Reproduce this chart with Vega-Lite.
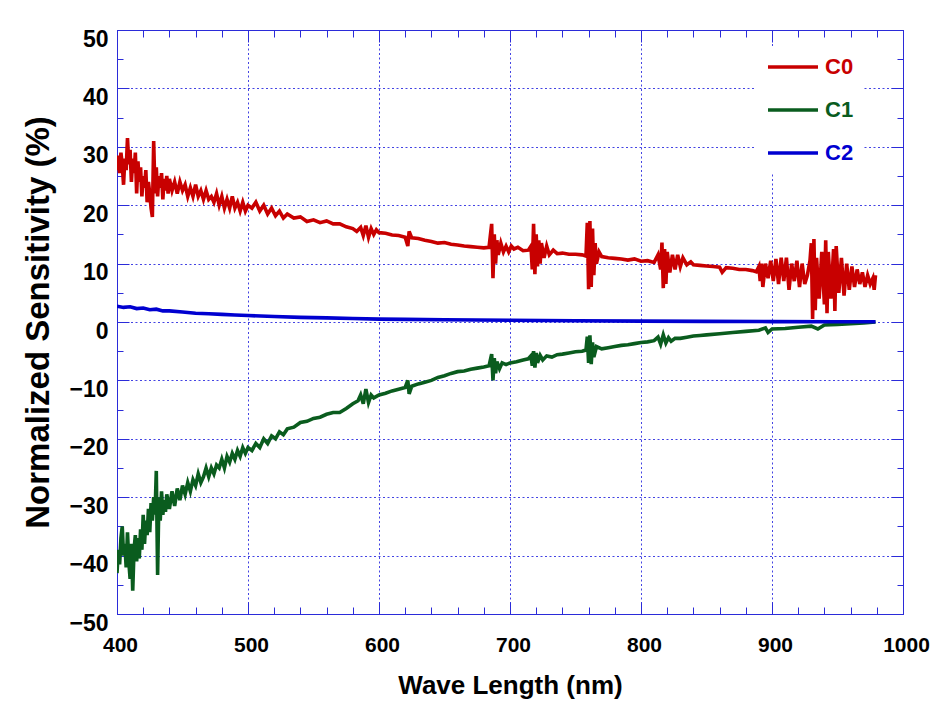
{
  "$schema": "https://vega.github.io/schema/vega-lite/v6.json",
  "autosize": "none",
  "width": 786,
  "height": 584,
  "padding": {"left": 117, "top": 30, "right": 39, "bottom": 92},
  "background": "white",
  "config": {
    "view": {"stroke": "#2b2bd9", "strokeWidth": 1},
    "axis": {"domainColor": "#2b2bd9", "tickColor": "#2b2bd9", "gridColor": "#3030e0", "gridDash": [2, 2.5], "gridWidth": 1}
  },
  "resolve": {"axis": {"x": "independent", "y": "independent"}},
  "layer": [
    {
      "data": {"values": [
        {"s":"C0","x":400,"y":26},{"s":"C0","x":401,"y":28.5},{"s":"C0","x":402,"y":25.5},{"s":"C0","x":403,"y":29},{"s":"C0","x":404,"y":27},{"s":"C0","x":405,"y":23.5},{"s":"C0","x":406,"y":28},{"s":"C0","x":407,"y":26},{"s":"C0","x":408,"y":31.5},{"s":"C0","x":409,"y":27},{"s":"C0","x":410,"y":29.5},{"s":"C0","x":411,"y":24},{"s":"C0","x":412,"y":28},{"s":"C0","x":413,"y":25.5},{"s":"C0","x":414,"y":29},{"s":"C0","x":415,"y":22},{"s":"C0","x":416,"y":27.5},{"s":"C0","x":417,"y":24},{"s":"C0","x":418,"y":26.5},{"s":"C0","x":419,"y":21.5},{"s":"C0","x":420,"y":25},{"s":"C0","x":421,"y":23},{"s":"C0","x":422,"y":26},{"s":"C0","x":423,"y":20.5},{"s":"C0","x":424,"y":24},{"s":"C0","x":425,"y":22},{"s":"C0","x":426,"y":19.5},{"s":"C0","x":427,"y":18},{"s":"C0","x":428,"y":31},{"s":"C0","x":429,"y":22},{"s":"C0","x":430,"y":26.5},{"s":"C0","x":431,"y":21.5},{"s":"C0","x":432,"y":25},{"s":"C0","x":433,"y":23},{"s":"C0","x":434,"y":25.5},{"s":"C0","x":435,"y":21},{"s":"C0","x":436,"y":24.5},{"s":"C0","x":437,"y":22.5},{"s":"C0","x":438,"y":25},{"s":"C0","x":439,"y":22},{"s":"C0","x":440,"y":24.5},{"s":"C0","x":442,"y":22.5},{"s":"C0","x":444,"y":24},{"s":"C0","x":446,"y":22},{"s":"C0","x":448,"y":24},{"s":"C0","x":450,"y":22.5},{"s":"C0","x":452,"y":23.5},{"s":"C0","x":454,"y":21.5},{"s":"C0","x":456,"y":23},{"s":"C0","x":458,"y":21.5},{"s":"C0","x":460,"y":23.5},{"s":"C0","x":462,"y":21.5},{"s":"C0","x":464,"y":22.5},{"s":"C0","x":466,"y":21},{"s":"C0","x":468,"y":22.5},{"s":"C0","x":470,"y":21},{"s":"C0","x":472,"y":21.5},{"s":"C0","x":474,"y":20.5},{"s":"C0","x":476,"y":22},{"s":"C0","x":478,"y":20},{"s":"C0","x":480,"y":21.5},{"s":"C0","x":482,"y":19.5},{"s":"C0","x":484,"y":21},{"s":"C0","x":486,"y":19.5},{"s":"C0","x":488,"y":21.5},{"s":"C0","x":490,"y":19.5},{"s":"C0","x":492,"y":20.5},{"s":"C0","x":494,"y":19},{"s":"C0","x":496,"y":20.5},{"s":"C0","x":498,"y":19},{"s":"C0","x":500,"y":20},{"s":"C0","x":503,"y":19.5},{"s":"C0","x":506,"y":20.5},{"s":"C0","x":509,"y":19},{"s":"C0","x":512,"y":20},{"s":"C0","x":515,"y":18.5},{"s":"C0","x":518,"y":19.5},{"s":"C0","x":521,"y":18.2},{"s":"C0","x":524,"y":19},{"s":"C0","x":527,"y":17.8},{"s":"C0","x":530,"y":18.5},{"s":"C0","x":535,"y":17.8},{"s":"C0","x":540,"y":18},{"s":"C0","x":545,"y":17.2},{"s":"C0","x":550,"y":17.5},{"s":"C0","x":555,"y":17},{"s":"C0","x":560,"y":17.3},{"s":"C0","x":565,"y":16.8},{"s":"C0","x":570,"y":16.8},{"s":"C0","x":575,"y":16.3},{"s":"C0","x":580,"y":16},{"s":"C0","x":583,"y":15.5},{"s":"C0","x":586,"y":16.2},{"s":"C0","x":588,"y":14.8},{"s":"C0","x":590,"y":16.5},{"s":"C0","x":592,"y":14.5},{"s":"C0","x":594,"y":16},{"s":"C0","x":596,"y":15},{"s":"C0","x":598,"y":15.8},{"s":"C0","x":600,"y":15.3},{"s":"C0","x":605,"y":15.2},{"s":"C0","x":610,"y":14.9},{"s":"C0","x":615,"y":14.8},{"s":"C0","x":620,"y":14.5},{"s":"C0","x":622,"y":13},{"s":"C0","x":623,"y":15.5},{"s":"C0","x":625,"y":14.4},{"s":"C0","x":630,"y":14.3},{"s":"C0","x":635,"y":14},{"s":"C0","x":640,"y":13.8},{"s":"C0","x":645,"y":13.5},{"s":"C0","x":650,"y":13.6},{"s":"C0","x":655,"y":13.3},{"s":"C0","x":660,"y":13.2},{"s":"C0","x":665,"y":13},{"s":"C0","x":670,"y":12.9},{"s":"C0","x":675,"y":12.8},{"s":"C0","x":680,"y":12.7},{"s":"C0","x":684,"y":12.8},{"s":"C0","x":686,"y":16.8},{"s":"C0","x":687,"y":7.5},{"s":"C0","x":688,"y":15},{"s":"C0","x":689,"y":10},{"s":"C0","x":690,"y":14},{"s":"C0","x":691,"y":11.5},{"s":"C0","x":693,"y":13.5},{"s":"C0","x":695,"y":12},{"s":"C0","x":697,"y":13},{"s":"C0","x":699,"y":12},{"s":"C0","x":701,"y":13},{"s":"C0","x":703,"y":12.5},{"s":"C0","x":706,"y":12.8},{"s":"C0","x":710,"y":12.2},{"s":"C0","x":714,"y":12.3},{"s":"C0","x":716,"y":13},{"s":"C0","x":717,"y":9},{"s":"C0","x":718,"y":16.8},{"s":"C0","x":719,"y":8.2},{"s":"C0","x":720,"y":15},{"s":"C0","x":721,"y":9.5},{"s":"C0","x":722,"y":14},{"s":"C0","x":723,"y":10},{"s":"C0","x":724,"y":13.5},{"s":"C0","x":726,"y":11},{"s":"C0","x":728,"y":13},{"s":"C0","x":730,"y":11.5},{"s":"C0","x":733,"y":12.3},{"s":"C0","x":736,"y":11.7},{"s":"C0","x":740,"y":11.8},{"s":"C0","x":745,"y":11.6},{"s":"C0","x":750,"y":11.6},{"s":"C0","x":755,"y":11.5},{"s":"C0","x":758,"y":11.3},{"s":"C0","x":759,"y":17},{"s":"C0","x":760,"y":5.6},{"s":"C0","x":761,"y":17.3},{"s":"C0","x":762,"y":6},{"s":"C0","x":763,"y":16},{"s":"C0","x":764,"y":8},{"s":"C0","x":765,"y":13.5},{"s":"C0","x":766,"y":10},{"s":"C0","x":768,"y":12},{"s":"C0","x":770,"y":11.2},{"s":"C0","x":775,"y":11},{"s":"C0","x":780,"y":10.9},{"s":"C0","x":785,"y":10.8},{"s":"C0","x":790,"y":10.6},{"s":"C0","x":795,"y":10.8},{"s":"C0","x":800,"y":10.4},{"s":"C0","x":805,"y":10.5},{"s":"C0","x":810,"y":10.2},{"s":"C0","x":813,"y":11.5},{"s":"C0","x":815,"y":9},{"s":"C0","x":816,"y":13.6},{"s":"C0","x":817,"y":5.8},{"s":"C0","x":818,"y":12.5},{"s":"C0","x":819,"y":6.5},{"s":"C0","x":820,"y":12},{"s":"C0","x":822,"y":8.5},{"s":"C0","x":824,"y":11.5},{"s":"C0","x":826,"y":9},{"s":"C0","x":828,"y":11.5},{"s":"C0","x":830,"y":9.5},{"s":"C0","x":832,"y":11},{"s":"C0","x":835,"y":9.8},{"s":"C0","x":838,"y":10.3},{"s":"C0","x":840,"y":9.8},{"s":"C0","x":845,"y":9.7},{"s":"C0","x":850,"y":9.6},{"s":"C0","x":855,"y":9.5},{"s":"C0","x":860,"y":9.4},{"s":"C0","x":862,"y":8.5},{"s":"C0","x":865,"y":9.3},{"s":"C0","x":870,"y":9.2},{"s":"C0","x":875,"y":9},{"s":"C0","x":880,"y":9},{"s":"C0","x":885,"y":8.8},{"s":"C0","x":888,"y":8.6},{"s":"C0","x":890,"y":9.5},{"s":"C0","x":891,"y":7},{"s":"C0","x":892,"y":10},{"s":"C0","x":893,"y":6},{"s":"C0","x":895,"y":10},{"s":"C0","x":897,"y":7.5},{"s":"C0","x":899,"y":10.5},{"s":"C0","x":901,"y":7},{"s":"C0","x":903,"y":10.8},{"s":"C0","x":905,"y":6.5},{"s":"C0","x":907,"y":11},{"s":"C0","x":909,"y":7},{"s":"C0","x":911,"y":11},{"s":"C0","x":913,"y":5.5},{"s":"C0","x":915,"y":10},{"s":"C0","x":917,"y":7},{"s":"C0","x":919,"y":10.5},{"s":"C0","x":921,"y":6},{"s":"C0","x":923,"y":10},{"s":"C0","x":925,"y":6.5},{"s":"C0","x":927,"y":8},{"s":"C0","x":929,"y":10.5},{"s":"C0","x":930,"y":13.5},{"s":"C0","x":931,"y":0.5},{"s":"C0","x":932,"y":14.2},{"s":"C0","x":933,"y":2},{"s":"C0","x":934,"y":11},{"s":"C0","x":936,"y":4},{"s":"C0","x":938,"y":12},{"s":"C0","x":940,"y":3},{"s":"C0","x":941,"y":14},{"s":"C0","x":942,"y":1.5},{"s":"C0","x":943,"y":12},{"s":"C0","x":945,"y":4},{"s":"C0","x":947,"y":12.5},{"s":"C0","x":948,"y":1.9},{"s":"C0","x":949,"y":13},{"s":"C0","x":951,"y":5},{"s":"C0","x":953,"y":11},{"s":"C0","x":955,"y":4.5},{"s":"C0","x":957,"y":10},{"s":"C0","x":959,"y":5.5},{"s":"C0","x":961,"y":9.5},{"s":"C0","x":963,"y":6},{"s":"C0","x":965,"y":9},{"s":"C0","x":967,"y":6.5},{"s":"C0","x":969,"y":8.5},{"s":"C0","x":971,"y":6},{"s":"C0","x":973,"y":8},{"s":"C0","x":975,"y":6.5},{"s":"C0","x":977,"y":7.5},{"s":"C0","x":978,"y":5.5},{"s":"C0","x":979,"y":8},
        {"s":"C1","x":400,"y":-43},{"s":"C1","x":401,"y":-39},{"s":"C1","x":402,"y":-41.5},{"s":"C1","x":403,"y":-37},{"s":"C1","x":404,"y":-35},{"s":"C1","x":405,"y":-40},{"s":"C1","x":406,"y":-38},{"s":"C1","x":407,"y":-42},{"s":"C1","x":408,"y":-36},{"s":"C1","x":409,"y":-41},{"s":"C1","x":410,"y":-44},{"s":"C1","x":411,"y":-38},{"s":"C1","x":412,"y":-46},{"s":"C1","x":413,"y":-39},{"s":"C1","x":414,"y":-36.5},{"s":"C1","x":415,"y":-41},{"s":"C1","x":416,"y":-37},{"s":"C1","x":417,"y":-40.5},{"s":"C1","x":418,"y":-35.5},{"s":"C1","x":419,"y":-39},{"s":"C1","x":420,"y":-33},{"s":"C1","x":421,"y":-38},{"s":"C1","x":422,"y":-34},{"s":"C1","x":423,"y":-36.5},{"s":"C1","x":424,"y":-32},{"s":"C1","x":425,"y":-36},{"s":"C1","x":426,"y":-31},{"s":"C1","x":427,"y":-34},{"s":"C1","x":428,"y":-30},{"s":"C1","x":429,"y":-33},{"s":"C1","x":430,"y":-25.5},{"s":"C1","x":431,"y":-43.3},{"s":"C1","x":432,"y":-30},{"s":"C1","x":433,"y":-34},{"s":"C1","x":434,"y":-29},{"s":"C1","x":435,"y":-33},{"s":"C1","x":436,"y":-30.5},{"s":"C1","x":437,"y":-32.5},{"s":"C1","x":438,"y":-29.5},{"s":"C1","x":440,"y":-32},{"s":"C1","x":442,"y":-29},{"s":"C1","x":444,"y":-31.5},{"s":"C1","x":446,"y":-28.5},{"s":"C1","x":448,"y":-30.5},{"s":"C1","x":450,"y":-28},{"s":"C1","x":452,"y":-29.5},{"s":"C1","x":454,"y":-27.5},{"s":"C1","x":456,"y":-29},{"s":"C1","x":458,"y":-27},{"s":"C1","x":460,"y":-28},{"s":"C1","x":462,"y":-26},{"s":"C1","x":464,"y":-27.5},{"s":"C1","x":466,"y":-26.5},{"s":"C1","x":468,"y":-25},{"s":"C1","x":470,"y":-26.5},{"s":"C1","x":472,"y":-25},{"s":"C1","x":474,"y":-26},{"s":"C1","x":476,"y":-24.5},{"s":"C1","x":478,"y":-25},{"s":"C1","x":480,"y":-23.5},{"s":"C1","x":482,"y":-25},{"s":"C1","x":484,"y":-23},{"s":"C1","x":486,"y":-24},{"s":"C1","x":488,"y":-22.5},{"s":"C1","x":490,"y":-23.5},{"s":"C1","x":492,"y":-22},{"s":"C1","x":494,"y":-23},{"s":"C1","x":496,"y":-21.5},{"s":"C1","x":498,"y":-22.5},{"s":"C1","x":500,"y":-21.5},{"s":"C1","x":503,"y":-22},{"s":"C1","x":506,"y":-20.8},{"s":"C1","x":509,"y":-21.5},{"s":"C1","x":512,"y":-20},{"s":"C1","x":515,"y":-20.8},{"s":"C1","x":518,"y":-19.5},{"s":"C1","x":521,"y":-20},{"s":"C1","x":524,"y":-18.8},{"s":"C1","x":527,"y":-19.3},{"s":"C1","x":530,"y":-18.3},{"s":"C1","x":535,"y":-18},{"s":"C1","x":540,"y":-17.2},{"s":"C1","x":545,"y":-17},{"s":"C1","x":550,"y":-16.5},{"s":"C1","x":555,"y":-16.3},{"s":"C1","x":560,"y":-15.8},{"s":"C1","x":565,"y":-15.5},{"s":"C1","x":570,"y":-15.5},{"s":"C1","x":575,"y":-14.8},{"s":"C1","x":580,"y":-14},{"s":"C1","x":584,"y":-13.5},{"s":"C1","x":586,"y":-12.5},{"s":"C1","x":588,"y":-14},{"s":"C1","x":590,"y":-11.5},{"s":"C1","x":592,"y":-13.8},{"s":"C1","x":594,"y":-12.5},{"s":"C1","x":596,"y":-13},{"s":"C1","x":600,"y":-12.5},{"s":"C1","x":605,"y":-12.2},{"s":"C1","x":610,"y":-11.8},{"s":"C1","x":615,"y":-11.5},{"s":"C1","x":620,"y":-11.2},{"s":"C1","x":622,"y":-10},{"s":"C1","x":623,"y":-12.3},{"s":"C1","x":625,"y":-11},{"s":"C1","x":630,"y":-10.6},{"s":"C1","x":635,"y":-10.3},{"s":"C1","x":640,"y":-10},{"s":"C1","x":645,"y":-9.5},{"s":"C1","x":650,"y":-9.2},{"s":"C1","x":655,"y":-8.8},{"s":"C1","x":660,"y":-8.5},{"s":"C1","x":665,"y":-8.4},{"s":"C1","x":670,"y":-8.1},{"s":"C1","x":675,"y":-7.9},{"s":"C1","x":680,"y":-7.7},{"s":"C1","x":684,"y":-7.5},{"s":"C1","x":686,"y":-5.5},{"s":"C1","x":687,"y":-10},{"s":"C1","x":688,"y":-6.2},{"s":"C1","x":689,"y":-8.8},{"s":"C1","x":690,"y":-6.8},{"s":"C1","x":692,"y":-8},{"s":"C1","x":694,"y":-7},{"s":"C1","x":697,"y":-7.3},{"s":"C1","x":700,"y":-7},{"s":"C1","x":705,"y":-6.8},{"s":"C1","x":710,"y":-6.5},{"s":"C1","x":714,"y":-6.3},{"s":"C1","x":716,"y":-5.8},{"s":"C1","x":717,"y":-7.5},{"s":"C1","x":718,"y":-5},{"s":"C1","x":719,"y":-7.8},{"s":"C1","x":720,"y":-5.3},{"s":"C1","x":721,"y":-7},{"s":"C1","x":723,"y":-5.7},{"s":"C1","x":725,"y":-6.5},{"s":"C1","x":728,"y":-5.8},{"s":"C1","x":732,"y":-6},{"s":"C1","x":736,"y":-5.6},{"s":"C1","x":740,"y":-5.5},{"s":"C1","x":745,"y":-5.3},{"s":"C1","x":750,"y":-5.1},{"s":"C1","x":755,"y":-5},{"s":"C1","x":758,"y":-4.8},{"s":"C1","x":759,"y":-2.5},{"s":"C1","x":760,"y":-7},{"s":"C1","x":761,"y":-2.3},{"s":"C1","x":762,"y":-7.2},{"s":"C1","x":763,"y":-3.5},{"s":"C1","x":764,"y":-6},{"s":"C1","x":766,"y":-4.2},{"s":"C1","x":770,"y":-4.6},{"s":"C1","x":775,"y":-4.4},{"s":"C1","x":780,"y":-4.2},{"s":"C1","x":785,"y":-4},{"s":"C1","x":790,"y":-3.9},{"s":"C1","x":795,"y":-3.7},{"s":"C1","x":800,"y":-3.5},{"s":"C1","x":805,"y":-3.4},{"s":"C1","x":810,"y":-3.2},{"s":"C1","x":813,"y":-2.6},{"s":"C1","x":815,"y":-3.8},{"s":"C1","x":817,"y":-2.2},{"s":"C1","x":819,"y":-3.6},{"s":"C1","x":821,"y":-2.7},{"s":"C1","x":823,"y":-3.3},{"s":"C1","x":826,"y":-2.8},{"s":"C1","x":830,"y":-2.8},{"s":"C1","x":835,"y":-2.6},{"s":"C1","x":840,"y":-2.4},{"s":"C1","x":845,"y":-2.3},{"s":"C1","x":850,"y":-2.2},{"s":"C1","x":860,"y":-2},{"s":"C1","x":870,"y":-1.8},{"s":"C1","x":880,"y":-1.6},{"s":"C1","x":890,"y":-1.4},{"s":"C1","x":895,"y":-1},{"s":"C1","x":897,"y":-1.8},{"s":"C1","x":900,"y":-1.2},{"s":"C1","x":910,"y":-1.1},{"s":"C1","x":920,"y":-0.9},{"s":"C1","x":930,"y":-0.7},{"s":"C1","x":935,"y":-1.2},{"s":"C1","x":940,"y":-0.5},{"s":"C1","x":950,"y":-0.4},{"s":"C1","x":960,"y":-0.3},{"s":"C1","x":970,"y":-0.15},{"s":"C1","x":979,"y":0},
        {"s":"C2","x":400,"y":2.7},{"s":"C2","x":405,"y":2.5},{"s":"C2","x":410,"y":2.6},{"s":"C2","x":415,"y":2.3},{"s":"C2","x":420,"y":2.4},{"s":"C2","x":425,"y":2.1},{"s":"C2","x":430,"y":2.2},{"s":"C2","x":435,"y":1.9},{"s":"C2","x":440,"y":1.9},{"s":"C2","x":450,"y":1.7},{"s":"C2","x":460,"y":1.5},{"s":"C2","x":470,"y":1.4},{"s":"C2","x":480,"y":1.3},{"s":"C2","x":490,"y":1.2},{"s":"C2","x":500,"y":1.1},{"s":"C2","x":520,"y":0.95},{"s":"C2","x":540,"y":0.8},{"s":"C2","x":560,"y":0.7},{"s":"C2","x":580,"y":0.6},{"s":"C2","x":600,"y":0.5},{"s":"C2","x":620,"y":0.45},{"s":"C2","x":650,"y":0.38},{"s":"C2","x":700,"y":0.3},{"s":"C2","x":750,"y":0.22},{"s":"C2","x":800,"y":0.15},{"s":"C2","x":850,"y":0.1},{"s":"C2","x":900,"y":0.07},{"s":"C2","x":950,"y":0.05},{"s":"C2","x":979,"y":0.05}
      ]},
      "mark": {"type": "line", "strokeJoin": "miter", "clip": true},
      "encoding": {
        "x": {"field": "x", "type": "quantitative", "scale": {"domain": [400, 1000], "nice": false},
          "axis": {
            "orient": "bottom", "title": "Wave Length (nm)", "format": "d",
            "values": [400,420,440,460,480,500,520,540,560,580,600,620,640,660,680,700,720,740,760,780,800,820,840,860,880,900,920,940,960,980,1000],
            "labelExpr": "datum.value % 100 === 0 ? datum.label : ''",
            "labelFlush": false, "labelOverlap": false,
            "labelFont": "Liberation Sans", "labelFontWeight": "bold", "labelFontSize": 21, "labelColor": "black",
            "labelPadding": 32, "labelOffset": 3,
            "ticks": true, "tickSize": {"condition": {"test": "datum.value % 100 === 0", "value": -12}, "value": -7},
            "grid": true, "gridOpacity": {"condition": {"test": "datum.value % 100 === 0", "value": 0.9}, "value": 0},
            "domain": true,
            "titleFont": "Liberation Sans", "titleFontWeight": "bold", "titleFontSize": 26, "titleColor": "black", "titlePadding": 12
          }},
        "y": {"field": "y", "type": "quantitative", "scale": {"domain": [-50, 50], "nice": false},
          "axis": {
            "orient": "left", "title": "Normalized Sensitivity (%)",
            "values": [-50,-45,-40,-35,-30,-25,-20,-15,-10,-5,0,5,10,15,20,25,30,35,40,45,50],
            "labelExpr": "datum.value % 10 === 0 ? datum.label : ''",
            "labelFlush": false, "labelOverlap": false,
            "labelFont": "Liberation Sans", "labelFontWeight": "bold", "labelFontSize": 23, "labelColor": "black",
            "labelPadding": 21, "labelOffset": 9,
            "ticks": true, "tickSize": {"condition": {"test": "datum.value % 10 === 0", "value": -12}, "value": -6},
            "grid": true, "gridOpacity": {"condition": {"test": "datum.value % 10 === 0", "value": 0.9}, "value": 0},
            "domain": true,
            "titleFont": "Liberation Sans", "titleFontWeight": "bold", "titleFontSize": 33, "titleColor": "black", "titlePadding": 13
          }},
        "color": {"field": "s", "type": "nominal",
          "scale": {"domain": ["C0", "C1", "C2"], "range": ["#c80000", "#0a5c1e", "#0000d0"]},
          "legend": {
            "title": null, "orient": "none", "legendX": 639, "legendY": 17,
            "fillColor": "white", "padding": 10,
            "symbolType": "stroke", "symbolSize": 2500, "symbolStrokeWidth": 4, "symbolOpacity": 1,
            "clipHeight": 20, "rowPadding": 21, "labelOffset": 5,
            "labelFont": "Liberation Sans", "labelFontWeight": "bold", "labelFontSize": 22,
            "encode": {"labels": {"update": {"fill": {"signal": "datum.value === 'C0' ? '#c80000' : datum.value === 'C1' ? '#0a5c1e' : '#0000d0'"}}}}
          }},
        "strokeWidth": {"field": "s", "type": "nominal", "scale": {"domain": ["C0", "C1", "C2"], "range": [3.6, 3.6, 4.5]}, "legend": null}
      }
    },
    {
      "data": {"values": [{"x": 400, "y": 0}]},
      "mark": {"type": "point", "opacity": 0},
      "encoding": {
        "x": {"field": "x", "type": "quantitative", "scale": {"domain": [400, 1000], "nice": false},
          "axis": {"orient": "top", "title": null, "labels": false, "grid": false, "domain": true,
            "values": [400,420,440,460,480,500,520,540,560,580,600,620,640,660,680,700,720,740,760,780,800,820,840,860,880,900,920,940,960,980,1000],
            "tickSize": {"condition": {"test": "datum.value % 100 === 0", "value": -12}, "value": -7}}},
        "y": {"field": "y", "type": "quantitative", "scale": {"domain": [-50, 50], "nice": false},
          "axis": {"orient": "right", "title": null, "labels": false, "grid": false, "domain": true,
            "values": [-50,-45,-40,-35,-30,-25,-20,-15,-10,-5,0,5,10,15,20,25,30,35,40,45,50],
            "tickSize": {"condition": {"test": "datum.value % 10 === 0", "value": -12}, "value": -6}}}
      }
    }
  ]
}
